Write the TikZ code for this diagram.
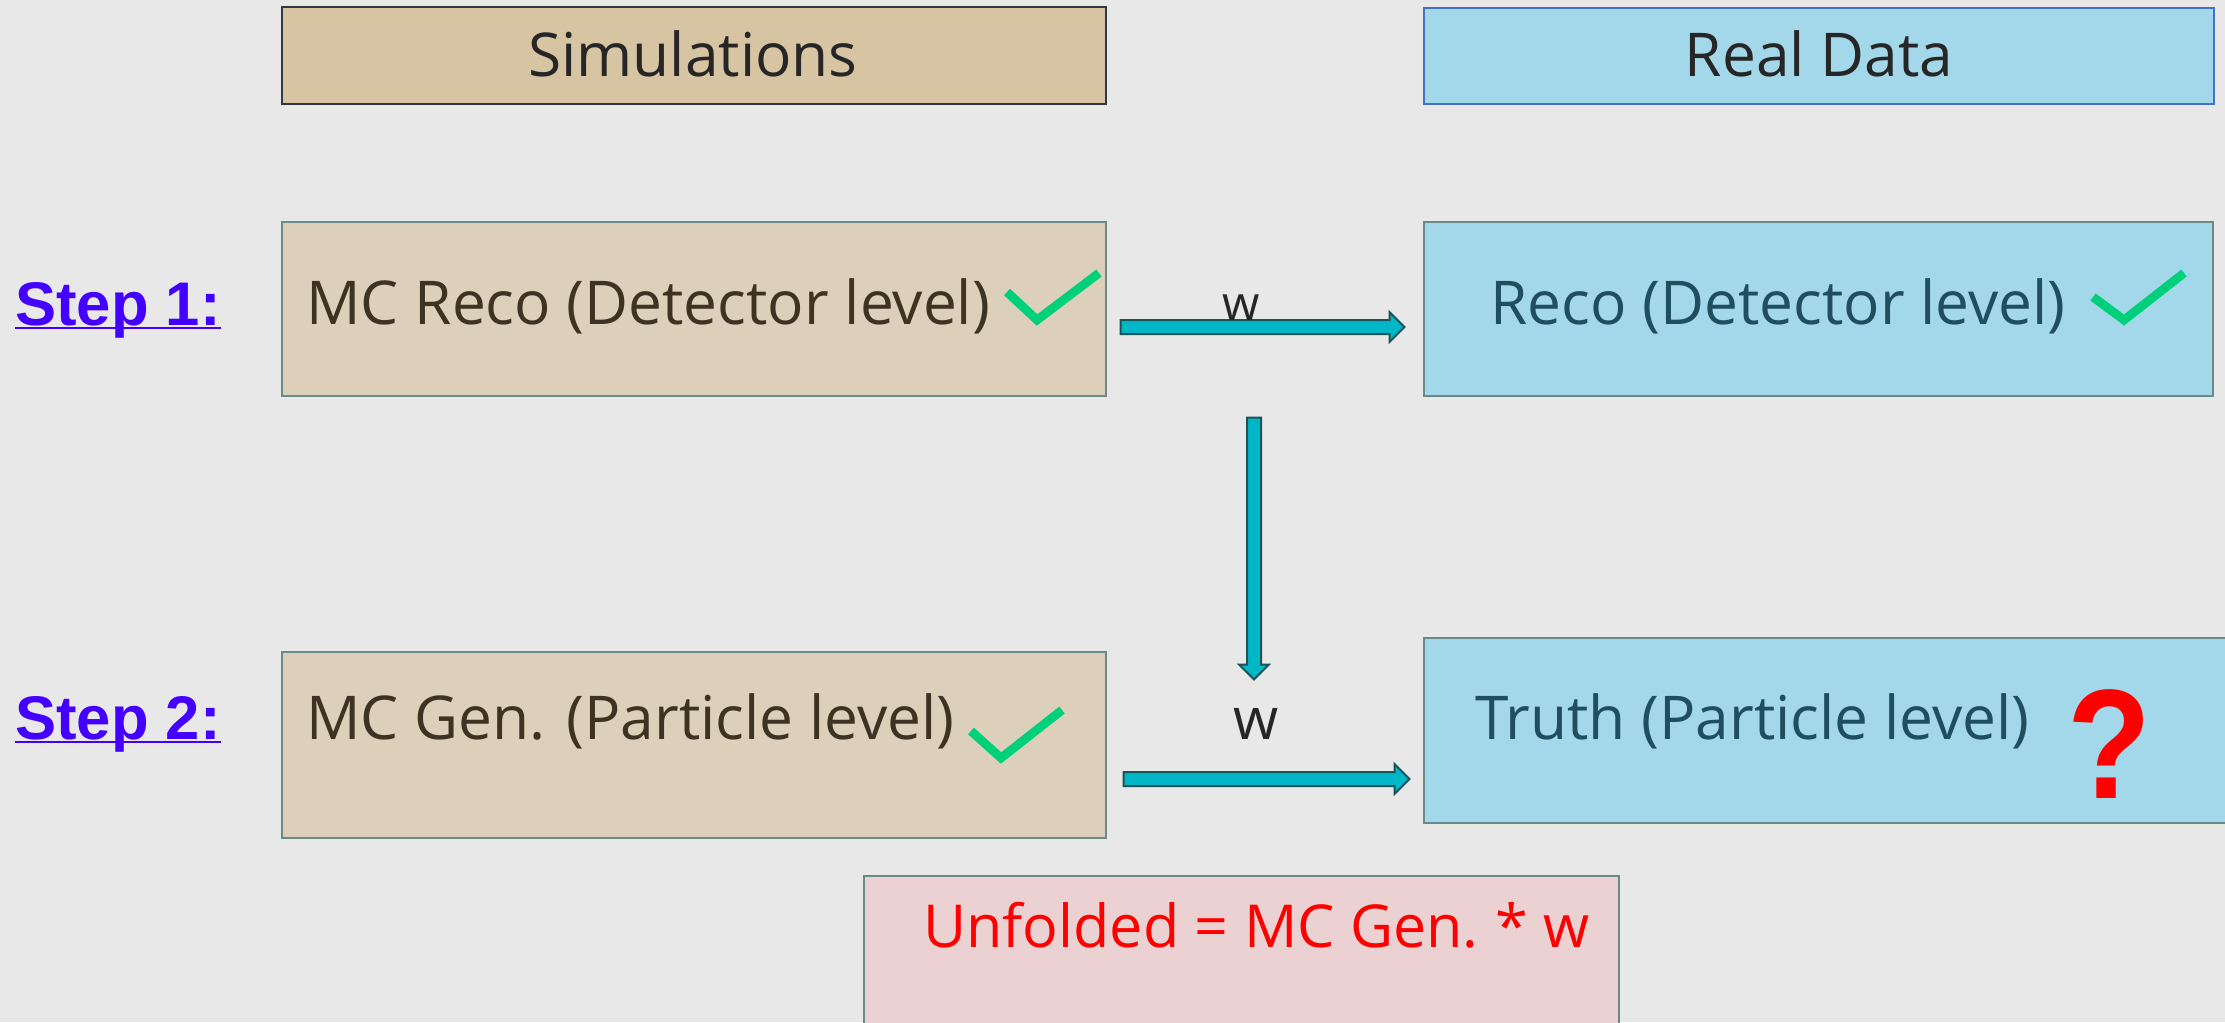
\documentclass[tikz,border=0pt]{standalone}
\usepackage{fontspec}
\setmainfont{Open Sans}
\newfontfamily\stepfont{Liberation Sans}
\usetikzlibrary{shapes.arrows,fit}

\definecolor{bg}{HTML}{E8E8E8}
\definecolor{simhead}{HTML}{D6C4A3}
\definecolor{simfill}{HTML}{DCD0BA}
\definecolor{datafill}{HTML}{A3D8EA}
\definecolor{unffill}{HTML}{EBD1D1}
\definecolor{darkedge}{HTML}{323843}
\definecolor{blueedge}{HTML}{4472C4}
\definecolor{greyedge}{HTML}{6A8A8A}
\definecolor{simtext}{HTML}{3D3323}
\definecolor{datatext}{HTML}{1F4E5F}
\definecolor{headtext}{HTML}{262626}
\definecolor{checkgreen}{HTML}{00D07A}
\definecolor{stepblue}{HTML}{4400FF}
\definecolor{arrowfill}{HTML}{00B7C7}
\definecolor{arrowedge}{HTML}{1A5358}

\tikzset{
  panel/.style={rectangle, inner sep=0pt, line width=0.9pt},
  label text/.style={inner sep=0pt, font=\fontsize{30.2}{36}\selectfont},
  steplabel/.style={inner sep=0pt, text=stepblue,
    font=\stepfont\bfseries\fontsize{30.8}{36}\selectfont},
  blockarrow/.style={single arrow, draw=arrowedge, fill=arrowfill, line width=1pt,
    inner sep=3pt, single arrow head extend=4pt, single arrow head indent=0pt},
  checkmark/.style={draw=checkgreen, line width=4.4pt, line join=miter},
}

\begin{document}
\begin{tikzpicture}[x=0.5pt,y=-0.5pt]
  % canvas
  \fill[bg] (0,0) rectangle (2225,1022);
  \useasboundingbox (0,0) rectangle (2225,1022);

  % column headers
  \node[panel, draw=darkedge, fill=simhead, fit={(282,7)(1106,104)}] (simhdr) {};
  \node[panel, draw=blueedge, fill=datafill, fit={(1424,8)(2214,104)}] (datahdr) {};
  \node[label text, text=headtext, anchor=base] (simtitle) at (693,77) {Simulations};
  \node[label text, text=headtext, anchor=base] (datatitle) at (1819,77) {Real Data};

  % step 1 row
  \node[panel, draw=greyedge, fill=simfill, fit={(282,222)(1106,396)}] (mcreco) {};
  \node[panel, draw=greyedge, fill=datafill, fit={(1424,222)(2213,396)}] (reco) {};
  \node[label text, text=simtext, anchor=base west] (mcrecotxt) at (306,324) {MC Reco (Detector level)};
  \node[label text, text=datatext, anchor=base west] (recotxt) at (1490,324) {Reco (Detector level)};

  % step 2 row
  \node[panel, draw=greyedge, fill=simfill, fit={(282,652)(1106,838)}] (mcgen) {};
  \node[panel, draw=greyedge, fill=datafill, fit={(1424,638)(2240,823)}] (truth) {};
  \node[label text, text=simtext, anchor=base west] (mcgentxt) at (306,739) {MC Gen. (Particle level)};
  \node[label text, text=datatext, anchor=base west] (truthtxt) at (1475,739) {Truth (Particle level)};

  % result box
  \node[panel, draw=greyedge, fill=unffill, fit={(864,876)(1619,1040)}] (unfolded) {};
  \node[label text, text=red, anchor=base west, font=\fontsize{29.6}{35}\selectfont] (unftxt) at (923,947) {Unfolded = MC Gen.\hspace{-2pt} * w};

  % step labels
  \node[steplabel, anchor=base west] (step1) at (15,325) {Step 1:};
  \node[steplabel, anchor=base west] (step2) at (15,739) {Step 2:};
  \draw[stepblue, line width=1.2pt] ([yshift=-1.6pt]step1.base west) -- ([yshift=-1.6pt]step1.base east);
  \draw[stepblue, line width=1.2pt] ([yshift=-1.6pt]step2.base west) -- ([yshift=-1.6pt]step2.base east);

  % block arrows
  \node[blockarrow, minimum height=142pt] (arrowreco) at (1259,327) {};
  \node[blockarrow, minimum height=131pt, rotate=-90] (arrowdown) at (1254,545) {};
  \node[blockarrow, minimum height=143pt] (arrowgen) at (1263,779) {};
  \node[inner sep=0pt, text=headtext, anchor=base, font=\fontsize{24}{28}\selectfont] (wreco) at (1241,320) {w};
  \node[inner sep=0pt, text=headtext, anchor=base, font=\fontsize{29}{34}\selectfont] (wgen) at (1256,739) {w};

  % check marks and question mark
  \draw[checkmark] (1007,292) -- (1037,320) -- (1099,273);
  \draw[checkmark] (2093,297) -- (2124,320) -- (2184,273);
  \draw[checkmark] (971,731) -- (1001,758) -- (1062,710);
  \node[inner sep=0pt, text=red, anchor=base, xscale=0.88,
        font=\stepfont\bfseries\fontsize{78}{82}\selectfont] (unknown) at (2109,798) {?};
\end{tikzpicture}
\end{document}
